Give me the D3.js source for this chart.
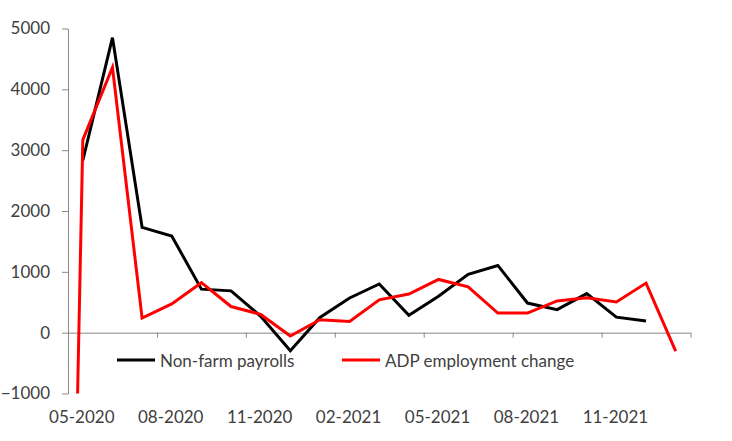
<!DOCTYPE html>
<html>
<head>
<meta charset="utf-8">
<script src="https://cdn.jsdelivr.net/npm/d3@7"></script>
<style>
  html, body { margin: 0; padding: 0; background: #fff; }
  svg { display: block; }
  text { font-family: Lato, "Open Sans", sans-serif; fill: #404040; }
</style>
</head>
<body>
<svg id="chart" width="732" height="441"></svg>
<script>
// ---- data ----
const months = ["04-2020","05-2020","06-2020","07-2020","08-2020","09-2020","10-2020","11-2020","12-2020",
  "01-2021","02-2021","03-2021","04-2021","05-2021","06-2021","07-2021","08-2021","09-2021","10-2021",
  "11-2021","12-2021","01-2022"];
const nonFarmPayrolls = [null, 2830, 4850, 1730, 1590, 715, 687, 270, -296, 250, 570, 800, 285, 600,
  960, 1105, 487, 378, 642, 255, 190, null];
const adpChange = [-20500, 3170, 4360, 240, 473, 822, 430, 300, -55, 213, 185, 540, 636, 875,
  752, 322, 322, 522, 575, 505, 815, -305];
const xTickLabels = ["05-2020","08-2020","11-2020","02-2021","05-2021","08-2021","11-2021"];
const yTickValues = [-1000, 0, 1000, 2000, 3000, 4000, 5000];
const seriesNames = ["Non-farm payrolls", "ADP employment change"];

(function () {
// ---- layout ----
const svg = d3.select("#chart");
const mLeft = 68, mRight = 690.5, mTop = 28.5, mBottom = 393.5;
const fs = 17;
const x = d3.scaleLinear().domain([0.5, 21.5]).range([mLeft, mRight]);
const y = d3.scaleLinear().domain([-1000, 5000]).range([mBottom, mTop]);

svg.append("rect").attr("width", 732).attr("height", 441).attr("fill", "#fff");

svg.append("defs").append("clipPath").attr("id", "plotclip")
  .append("rect").attr("x", 0).attr("y", 0).attr("width", 732).attr("height", mBottom);

// y axis
const yAxis = svg.append("g").attr("transform", `translate(${mLeft},0)`)
  .call(d3.axisLeft(y).tickValues(yTickValues).tickSize(6).tickSizeOuter(0).tickPadding(12)
    .tickFormat(d3.format("d")));
yAxis.select(".domain").attr("stroke", "#888").attr("stroke-width", 1);
yAxis.selectAll(".tick line").attr("stroke", "#888");
yAxis.selectAll(".tick text").attr("font-size", fs).attr("fill", "#404040")
  .attr("font-family", "Lato, sans-serif");

// x axis along zero
const boundaries = d3.range(0.5, 21.6, 3);
const xAxis = svg.append("g").attr("transform", `translate(0,${y(0)})`)
  .call(d3.axisBottom(x).tickValues(boundaries).tickSize(5).tickSizeOuter(0).tickFormat(""));
xAxis.select(".domain").attr("stroke", "#888").attr("stroke-width", 1);
xAxis.selectAll(".tick line").attr("stroke", "#888");

// x labels at bottom
svg.append("g").selectAll("text").data(xTickLabels).join("text")
  .attr("x", d => x(months.indexOf(d)) - 1)
  .attr("y", 423)
  .attr("text-anchor", "middle")
  .attr("font-size", fs)
  .text(d => d);

// lines
const line = d3.line()
  .defined(d => d.v !== null)
  .x(d => x(d.i))
  .y(d => y(d.v));
const plot = svg.append("g").attr("clip-path", "url(#plotclip)");
const series = [
  { name: seriesNames[0], color: "#000000", values: nonFarmPayrolls },
  { name: seriesNames[1], color: "#ff0000", values: adpChange }
];
series.forEach(s => {
  plot.append("path")
    .datum(s.values.map((v, i) => ({ i, v })))
    .attr("fill", "none")
    .attr("stroke", s.color)
    .attr("stroke-width", 3)
    .attr("stroke-linejoin", "miter")
    .attr("d", line);
});

// legend
const legendPos = [117, 342];
const legend = svg.append("g");
series.forEach((s, k) => {
  const g = legend.append("g").attr("transform", `translate(${legendPos[k]},360)`);
  g.append("line").attr("x1", 0).attr("x2", 38).attr("y1", 0).attr("y2", 0)
    .attr("stroke", s.color).attr("stroke-width", 3);
  g.append("text").attr("x", 43).attr("y", 6.5).attr("font-size", fs).text(s.name);
});
})();
</script>
</body>
</html>
